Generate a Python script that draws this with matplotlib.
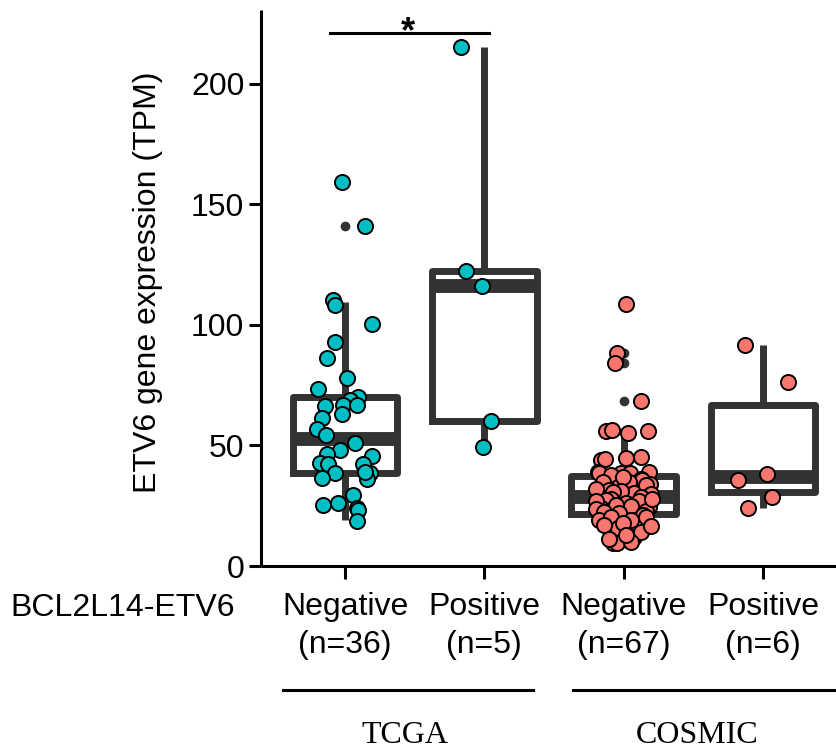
import numpy as np
import matplotlib.pyplot as plt

plt.rcParams['font.family'] = ['Liberation Sans', 'DejaVu Sans']

groups = ['Negative\n(n=36)', 'Positive\n(n=5)', 'Negative\n(n=67)', 'Positive\n(n=6)']
cohorts = ['TCGA', 'COSMIC']
yticks = [0, 50, 100, 150, 200]

# TPM values, with the horizontal jitter seen for each point
tcga_neg = [159.5, 141.2, 110.5, 108.5, 100.3, 92.8, 86.4, 78.1, 73.4, 70.2,
            68.9, 66.5, 66.8, 66.8, 61.3, 62.9, 56.7, 54.4, 51.2, 48.1,
            46.5, 45.6, 42.9, 42.3, 42.3, 38.5, 38.5, 36.0, 36.4, 39.1,
            29.5, 25.3, 26.0, 23.9, 23.2, 18.8]
tcga_neg_jit = [-0.024, 0.144, -0.084, -0.072, 0.192, -0.072, -0.127, 0.017, -0.192, 0.095,
                0.036, -0.144, -0.012, 0.084, -0.167, -0.024, -0.203, -0.136, 0.072, -0.036,
                -0.127, 0.192, -0.179, -0.12, 0.131, -0.072, 0.179, 0.156, -0.167, 0.144,
                0.06, -0.156, -0.048, 0.084, 0.095, 0.084]

tcga_pos = [215.5, 122.5, 116.3, 60.3, 49.5]
tcga_pos_jit = [-0.165, -0.129, -0.014, 0.05, -0.01]

cosmic_neg = [108.6, 88.4, 84.4, 68.6,
              56.2, 56.4, 55.0, 56.2, 44.0, 44.3, 44.7, 45.1, 39.1, 38.7, 38.5, 38.6, 39.1,
              37.8, 36.0, 35.0, 35.7, 35.0, 32.9, 34.0, 31.5, 30.2, 29.5, 36.8, 33.5, 31.0, 29.8, 32.0, 28.8, 30.5,
              28.0, 27.4, 26.3, 24.6, 24.0, 23.2, 23.2, 22.0, 27.0, 25.5, 26.8, 22.8, 25.0, 23.8, 27.8, 22.5, 21.8,
              21.0, 19.1, 20.2, 19.1, 20.5, 15.6, 12.2, 14.2, 9.4, 9.6, 10.1, 18.0, 17.0, 16.5, 13.0, 11.0]
cosmic_neg_jit = [0.014, -0.05, -0.065, 0.122,
                  -0.129, -0.086, 0.029, 0.172, -0.165, -0.136, 0.014, 0.122, -0.187, -0.179, -0.022, 0.043, 0.179,
                  -0.093, 0.122, -0.151, 0.129, 0.036, -0.043, 0.19, -0.108, 0.072, -0.187, -0.007, 0.158, -0.022, 0.194, -0.2, 0.122, -0.079,
                  -0.093, -0.129, 0.014, 0.179, -0.165, -0.093, 0.072, 0.0, -0.2, -0.057, 0.108, 0.158, 0.05, -0.2, 0.2, -0.144, -0.036,
                  0.136, -0.179, -0.093, 0.05, 0.158, -0.043, 0.072, 0.122, -0.079, -0.05, 0.05, -0.007, -0.144, 0.194, 0.014, -0.108]

cosmic_pos = [91.7, 76.5, 35.7, 38.2, 28.8, 23.9]
cosmic_pos_jit = [-0.129, 0.177, -0.177, 0.031, 0.067, -0.105]

# box summaries as drawn in the figure
box_lo = [19.0, 49.5, 9.4, 23.9]
box_q1 = [38.6, 60.3, 21.5, 30.7]
box_med = [52.5, 116.3, 28.5, 37.0]
box_q3 = [70.0, 122.5, 37.5, 66.8]
box_hi = [109.5, 215.5, 56.0, 91.7]
box_out = [[141.2, 159.5], [], [68.6, 84.4, 88.4, 108.6], []]

values = [tcga_neg, tcga_pos, cosmic_neg, cosmic_pos]
jitters = [tcga_neg_jit, tcga_pos_jit, cosmic_neg_jit, cosmic_pos_jit]
colors = ['#00BFC4', '#00BFC4', '#F8766D', '#F8766D']
dark = '#333333'

fig = plt.figure(figsize=(8.36, 7.53), dpi=100)
ax = fig.add_axes([261/836, 1-566/753, 575/836, 556/753])

pos = np.arange(1, 5)
stats = []
for i in range(4):
    stats.append(dict(whislo=box_lo[i], q1=box_q1[i], med=box_med[i], q3=box_q3[i],
                      whishi=box_hi[i], fliers=box_out[i]))
ax.bxp(stats, positions=pos, widths=0.75, showcaps=False,
       boxprops=dict(color=dark, linewidth=5, solid_joinstyle='round'),
       whiskerprops=dict(color=dark, linewidth=5, solid_capstyle='butt'),
       medianprops=dict(color=dark, linewidth=10, solid_capstyle='butt'),
       flierprops=dict(marker='o', markerfacecolor=dark, markeredgecolor='none', markersize=7))

for i in range(4):
    ax.scatter(pos[i] + np.array(jitters[i]), values[i], s=118, c=colors[i],
               edgecolors='black', linewidths=1.4, zorder=3)

ax.set_xlim(0.397, 4.524)
ax.set_ylim(0, 230.7)
ax.set_yticks(yticks)
ax.set_xticks(pos)
ax.set_xticklabels(groups, linespacing=1.35)
ax.tick_params(axis='both', labelsize=23, length=9, width=2.2, color='black')
ax.tick_params(axis='x', pad=10)
ax.tick_params(axis='y', pad=3)
for s in ['top', 'right']:
    ax.spines[s].set_visible(False)
for s in ['left', 'bottom']:
    ax.spines[s].set_linewidth(2.2)
    ax.spines[s].set_capstyle('butt')

ax.set_ylabel('ETV6 gene expression (TPM)', fontsize=23)
ax.yaxis.label.set_va('center')
ax.yaxis.set_label_coords(-0.1965, 0.51)

# significance bar
ax.plot([0.89, 2.03], [221, 221], color='black', lw=2.2, clip_on=False)
ax.text(1.45, 214, '*', fontsize=26, ha='center', va='bottom', fontweight='bold')

# cohort brackets under the tick labels
tr = ax.get_xaxis_transform()
ax.plot([0.555, 2.35], [-0.223, -0.223], color='black', lw=2.2, transform=tr, clip_on=False)
ax.plot([2.634, 4.7], [-0.223, -0.223], color='black', lw=2.2, transform=tr, clip_on=False)
ax.text(1.43, -0.304, cohorts[0], transform=tr, ha='center', va='center',
        fontsize=23, family=['Liberation Serif', 'DejaVu Serif'])
ax.text(3.53, -0.304, cohorts[1], transform=tr, ha='center', va='center',
        fontsize=23, family=['Liberation Serif', 'DejaVu Serif'])

fig.text(10/836, 1-608/753, 'BCL2L14-ETV6', fontsize=23, ha='left', va='center')

fig.savefig('out.png', dpi=100)
